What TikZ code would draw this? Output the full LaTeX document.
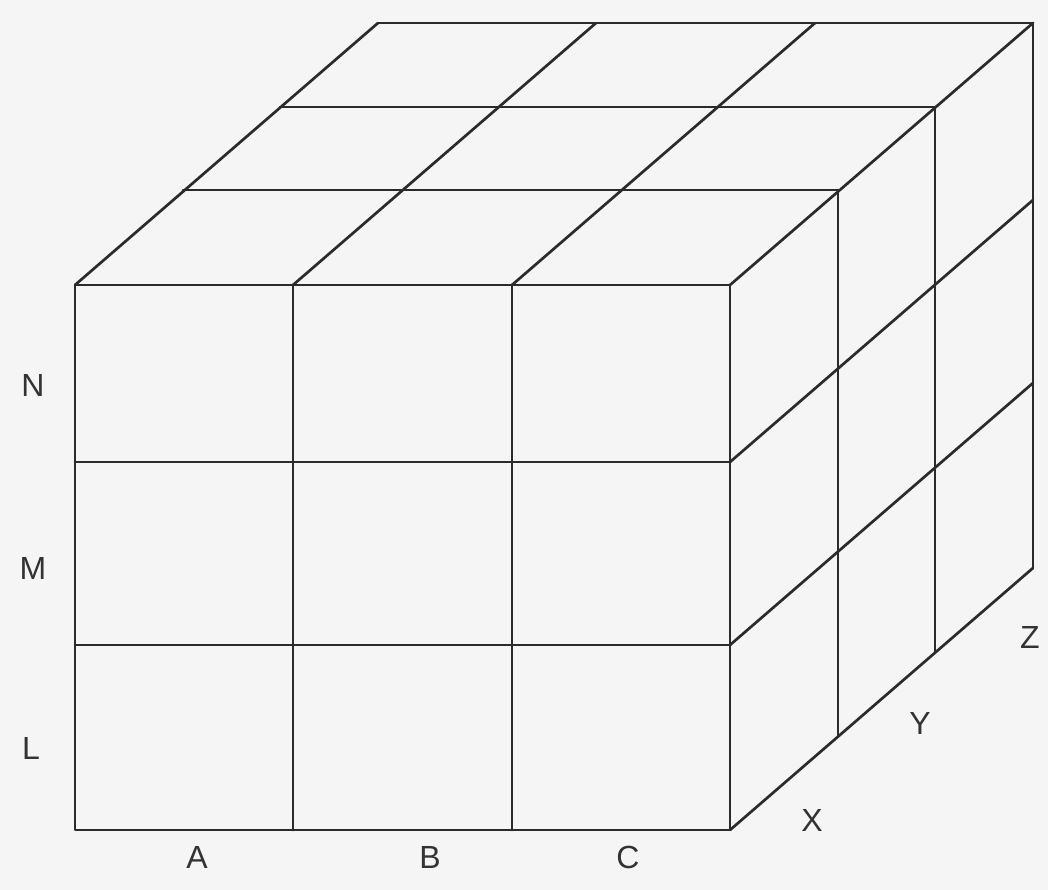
\documentclass[tikz,border=0pt]{standalone}
\usepackage{fontspec}
\setmainfont{Liberation Sans}
\usetikzlibrary{calc}
\definecolor{bgc}{HTML}{F5F5F5}
\definecolor{linec}{HTML}{2B2B2B}
\definecolor{labelc}{HTML}{333333}
\begin{document}
\begin{tikzpicture}[x=1pt,y=-1pt,
  edge/.style={draw=linec, line width=2.7pt, line cap=round, line join=round},
  lbl/.style={font=\fontsize{32}{36}\selectfont, text=labelc, inner sep=0pt, anchor=center}]
\fill[bgc] (0,0) rectangle (1048,890);
\useasboundingbox (0,0) rectangle (1048,890);
% front face corners
\coordinate (FTL) at (75,285);
\coordinate (FTR) at (730,285);
\coordinate (FBL) at (75,830);
\coordinate (FBR) at (730,830);
% front grid
\draw[edge] (FTL) rectangle (FBR);
\foreach \x in {293,512} \draw[edge] (\x,285) -- (\x,830);
\foreach \y in {462,645} \draw[edge] (75,\y) -- (730,\y);
% top face: receding lines from each column
\foreach \x in {75,293,512,730} \draw[edge] (\x,285) -- ++(303,-262);
% top face: layers
\foreach \dx/\dy in {108/-95,205/-178,303/-262}
  \draw[edge] ($(FTL)+(\dx,\dy)$) -- ($(FTR)+(\dx,\dy)$);
% right face: receding lines from each row
\foreach \y in {462,645,830} \draw[edge] (730,\y) -- ++(303,-262);
% right face: verticals
\foreach \dx/\dy in {108/-95,205/-178,303/-262}
  \draw[edge] ($(FTR)+(\dx,\dy)$) -- ($(FBR)+(\dx,\dy)$);
% labels
\node[lbl] (N) at (33,385) {N};
\node[lbl] (M) at (33,568) {M};
\node[lbl] (L) at (31,748) {L};
\node[lbl] (A) at (197,857) {A};
\node[lbl] (B) at (430,857) {B};
\node[lbl] (C) at (628,857) {C};
\node[lbl] (X) at (812,820) {X};
\node[lbl] (Y) at (920,723) {Y};
\node[lbl] (Z) at (1030,637) {Z};
\end{tikzpicture}
\end{document}
